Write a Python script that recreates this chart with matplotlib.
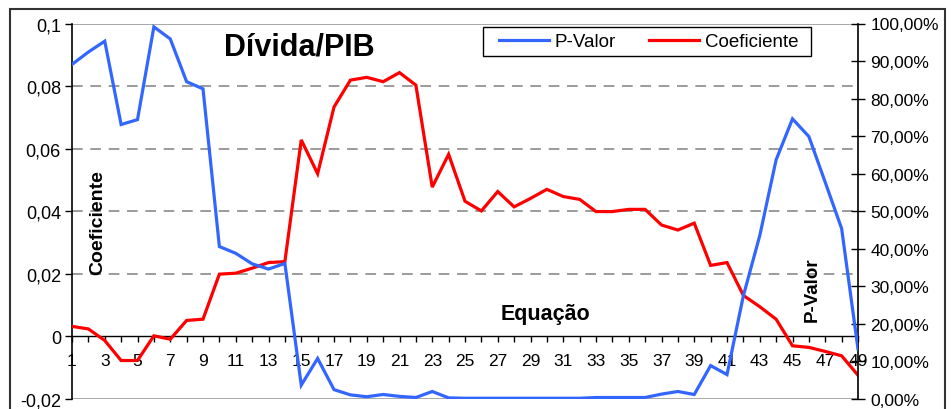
import matplotlib
matplotlib.use("Agg")
import matplotlib.pyplot as plt
from matplotlib.lines import Line2D
from matplotlib.patches import Rectangle

plt.rcParams['font.family'] = ['Liberation Sans', 'DejaVu Sans']

# Data
equacao = list(range(1, 50))
coeficiente = [0.0032, 0.0024, -0.0013, -0.0077, -0.0077, 0.0002, -0.0009, 0.0051, 0.0055, 0.0199,
               0.0202, 0.0218, 0.0236, 0.0239, 0.0628, 0.0520, 0.0733, 0.0819, 0.0828, 0.0814,
               0.0843, 0.0803, 0.0477, 0.0582, 0.0432, 0.0401, 0.0463, 0.0414, 0.0441, 0.0470,
               0.0447, 0.0438, 0.0399, 0.0399, 0.0406, 0.0406, 0.0356, 0.0340, 0.0362, 0.0227,
               0.0236, 0.0131, 0.0095, 0.0055, -0.0030, -0.0035, -0.0048, -0.0062, -0.0124]
p_valor = [89.1, 92.4, 95.3, 73.1, 74.4, 99.1, 95.9, 84.5, 82.6, 40.6,
           38.8, 36.0, 34.6, 36.1, 3.7, 10.8, 2.5, 1.1, 0.6, 1.2,
           0.7, 0.4, 2.0, 0.3, 0.2, 0.2, 0.2, 0.2, 0.2, 0.2,
           0.2, 0.2, 0.4, 0.4, 0.4, 0.4, 1.3, 2.0, 1.2, 8.9,
           6.5, 27.5, 43.5, 63.7, 74.6, 69.9, 57.7, 45.4, 13.3]

left_ticks = [-0.02, 0, 0.02, 0.04, 0.06, 0.08, 0.1]
left_labels = ['-0,02', '0', '0,02', '0,04', '0,06', '0,08', '0,1']
right_ticks = list(range(0, 101, 10))
right_labels = ['%d,00%%' % t for t in right_ticks]
x_labels = [str(i) if i % 2 else '' for i in equacao]

W, H = 951, 410
fig = plt.figure(figsize=(W / 100, H / 100), dpi=100)
ax = fig.add_axes([72 / W, 1 - 400 / H, (858 - 72) / W, (400 - 24.5) / H])
ax2 = ax.twinx()

blue = '#3366FF'
red = '#FF0000'
grid_c = '#808080'

ax.plot(equacao, coeficiente, color=red, lw=2.3, solid_joinstyle='miter', zorder=3)
ax2.plot(equacao, p_valor, color=blue, lw=2.3, solid_joinstyle='miter', zorder=3)

ax.set_xlim(1, 49)
ax.set_ylim(-0.02, 0.1)
ax2.set_ylim(0, 100)

# gridlines
for v in [0.02, 0.04, 0.06, 0.08]:
    ax.axhline(v, color=grid_c, lw=1.1, dashes=(7, 5), zorder=1)
ax.axhline(0.1, color='#999999', lw=1.2, zorder=1)
ax.axhline(-0.02, color='#999999', lw=1.2, zorder=1)

# spines
for s in ['top', 'right']:
    ax.spines[s].set_visible(False)
ax.spines['bottom'].set_position(('data', 0))
ax.spines['bottom'].set_linewidth(1.0)
ax.spines['left'].set_linewidth(1.2)
for s in ['top', 'left', 'bottom']:
    ax2.spines[s].set_visible(False)
ax2.spines['right'].set_linewidth(1.2)

ax.set_yticks(left_ticks)
ax.set_yticklabels(left_labels, fontsize=13)
ax.tick_params(axis='y', direction='out', length=5, width=1, pad=3)
ax.set_xticks(equacao)
ax.set_xticklabels(x_labels, fontsize=12.5)
ax.tick_params(axis='x', direction='out', length=4, width=1, pad=8)

ax2.set_yticks(right_ticks)
ax2.set_yticklabels(right_labels, fontsize=12.5)
ax2.tick_params(axis='y', direction='inout', length=10, width=1, pad=4)

# annotations
fig.text(299 / W, 1 - 48 / H, 'Dívida/PIB', ha='center', va='center', fontsize=22, fontweight='bold')
fig.text(545 / W, 1 - 315 / H, 'Equação', ha='center', va='center', fontsize=15.5, fontweight='bold')
fig.text(98 / W, 1 - 223 / H, 'Coeficiente', ha='center', va='center', rotation=90,
         fontsize=14, fontweight='bold')
fig.text(812 / W, 1 - 290 / H, 'P-Valor', ha='center', va='center', rotation=90,
         fontsize=13.5, fontweight='bold')

# legend: entries without frame, box drawn separately underneath
fig.patches.append(Rectangle((483 / W, 1 - 57 / H), (811 - 483) / W, 29 / H,
                             transform=fig.transFigure, facecolor='white',
                             edgecolor='black', lw=1.0, zorder=5))
handles = [Line2D([], [], color=blue, lw=2.3), Line2D([], [], color=red, lw=2.3)]
leg = fig.legend(handles, ['P-Valor', 'Coeficiente'], ncol=2, loc='center left',
                 bbox_to_anchor=(499 / W, 1 - 42.5 / H),
                 frameon=False, fontsize=13.5,
                 handlelength=2.65, handletextpad=0.3, columnspacing=1.8,
                 borderpad=0, borderaxespad=0)
leg.set_zorder(6)

# outer chart frame
fig.patches.append(Rectangle((10 / W, -0.05), (945 - 10) / W, 1 - 10 / H + 0.05,
                             transform=fig.transFigure, fill=False, edgecolor='#333333', lw=1.5))

fig.savefig('out.png', dpi=100)
